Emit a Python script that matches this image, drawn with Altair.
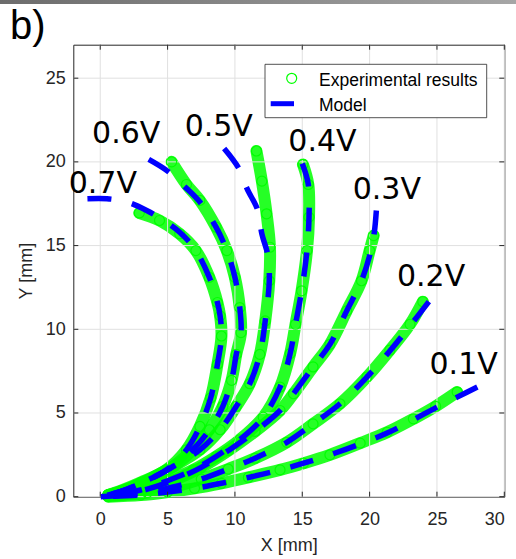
import altair as alt
import pandas as pd

# ---------------- data ----------------
voltages = ["0.1V", "0.2V", "0.3V", "0.4V", "0.5V", "0.6V", "0.7V"]

# experimental traces (mm)
exp_x_01 = [0.6, 3.0, 5.0, 7.0, 9.0, 11.0, 13.35, 15.1, 17.05, 19.3, 21.3, 23.25, 24.9, 26.5]
exp_y_01 = [0.0, 0.1, 0.28, 0.5, 0.8, 1.15, 1.6, 2.0, 2.5, 3.2, 3.85, 4.65, 5.4, 6.25]
exp_x_02 = [0.6, 3.5, 5.5, 7.5, 9.5, 11.5, 13.85, 15.8, 17.8, 19.8, 21.5, 23.0, 23.95]
exp_y_02 = [0.05, 0.25, 0.6, 1.05, 1.65, 2.3, 3.25, 4.35, 5.55, 7.15, 8.75, 10.3, 11.65]
exp_x_03 = [0.6, 1.5, 3.5, 5.5, 7.5, 9.5, 11.5, 13.35, 14.35, 15.8, 17.05, 18.3, 19.4, 20.0, 20.3]
exp_y_03 = [0.05, 0.1, 0.45, 1.0, 1.75, 2.75, 3.9, 5.15, 6.15, 7.75, 9.1, 11.1, 12.9, 14.7, 15.6]
exp_x_04 = [0.6, 1.5, 3.0, 5.0, 6.9, 8.6, 10.35, 12.1, 13.35, 14.1, 14.5, 14.95, 15.35, 15.5, 15.45, 15.05]
exp_y_04 = [0.1, 0.15, 0.4, 0.95, 1.6, 2.4, 3.4, 4.75, 6.55, 8.55, 10.3, 12.3, 14.7, 16.7, 18.65, 19.85]
exp_x_05 = [0.6, 1.5, 3.3, 5.4, 7.4, 8.9, 10.1, 11.1, 11.85, 12.25, 12.55, 12.6, 12.35, 12.0, 11.6]
exp_y_05 = [0.1, 0.3, 0.9, 1.8, 2.8, 4.0, 5.4, 6.75, 8.5, 10.5, 12.9, 14.9, 16.9, 18.85, 20.65]
exp_x_06 = [0.6, 1.5, 3.3, 5.4, 7.1, 8.1, 9.1, 9.75, 10.1, 10.45, 10.36, 10.0, 9.4, 8.6, 7.4, 6.4, 5.3]
exp_y_06 = [0.1, 0.3, 0.9, 1.8, 3.0, 4.0, 5.4, 6.95, 8.5, 9.8, 11.3, 13.1, 14.7, 16.1, 17.7, 18.65, 20.0]
exp_x_07 = [0.6, 1.5, 3.0, 4.9, 6.4, 7.4, 8.2, 8.7, 9.0, 8.9, 8.7, 8.1, 7.1, 5.9, 4.4, 2.9]
exp_y_07 = [0.1, 0.35, 0.85, 1.6, 2.8, 4.2, 5.9, 7.9, 9.6, 10.8, 11.6, 13.1, 14.7, 15.7, 16.5, 16.95]

# model curves (mm)
mod_x_01 = [0.0, 3.0, 5.0, 7.0, 9.0, 11.0, 13.35, 15.1, 17.05, 19.3, 21.3, 23.25, 25.0, 26.5, 28.0]
mod_y_01 = [0.0, 0.1, 0.28, 0.5, 0.8, 1.15, 1.6, 2.0, 2.5, 3.15, 3.8, 4.6, 5.35, 5.95, 6.55]
mod_x_02 = [0.0, 3.5, 5.5, 7.5, 9.5, 11.5, 13.85, 15.8, 17.8, 19.8, 21.5, 23.0, 24.4]
mod_y_02 = [0.0, 0.25, 0.6, 1.05, 1.65, 2.3, 3.25, 4.35, 5.55, 7.15, 8.7, 10.2, 11.65]
mod_x_03 = [0.0, 1.5, 3.5, 5.5, 7.5, 9.5, 11.5, 13.35, 14.35, 15.8, 17.05, 18.3, 19.4, 20.1, 20.35, 20.5]
mod_y_03 = [0.0, 0.1, 0.45, 1.0, 1.75, 2.75, 3.9, 5.15, 6.15, 7.75, 9.1, 11.1, 12.9, 14.7, 15.8, 17.1]
mod_x_04 = [0.0, 1.5, 3.0, 5.0, 6.9, 8.6, 10.35, 12.1, 13.35, 14.1, 14.5, 14.95, 15.35, 15.5, 15.45, 15.0]
mod_y_04 = [0.0, 0.15, 0.4, 0.95, 1.6, 2.4, 3.4, 4.75, 6.55, 8.55, 10.3, 12.3, 14.7, 16.7, 18.65, 19.9]
mod_x_05 = [0.0, 1.5, 3.3, 5.4, 7.4, 8.9, 10.1, 11.1, 11.85, 12.25, 12.55, 12.45, 12.0, 11.7, 10.9, 10.3, 9.2]
mod_y_05 = [0.0, 0.3, 0.9, 1.8, 2.8, 4.0, 5.4, 6.75, 8.5, 10.5, 12.9, 14.4, 15.7, 17.1, 18.4, 19.6, 20.8]
mod_x_06 = [0.0, 1.5, 3.3, 5.4, 7.1, 8.1, 9.1, 9.75, 10.1, 10.45, 10.36, 10.0, 9.4, 8.6, 7.4, 6.3, 5.0, 3.6]
mod_y_06 = [0.0, 0.3, 0.9, 1.8, 3.0, 4.0, 5.4, 6.95, 8.5, 9.8, 11.3, 13.1, 14.7, 16.1, 17.6, 18.5, 19.45, 20.15]
mod_x_07 = [0.0, 1.5, 3.0, 4.9, 6.4, 7.4, 8.2, 8.7, 9.0, 8.9, 8.7, 8.1, 7.1, 5.9, 4.4, 3.45, 2.0, 0.5, -0.95]
mod_y_07 = [0.0, 0.3, 0.8, 1.6, 2.8, 4.2, 5.9, 7.9, 9.6, 10.8, 11.6, 13.1, 14.7, 15.8, 16.65, 17.1, 17.6, 17.8, 17.8]

# voltage annotations
label_text = ["0.1V", "0.2V", "0.3V", "0.4V", "0.5V", "0.6V", "0.7V"]
label_x = [26.98, 24.56, 21.28, 16.5, 8.8, 1.93, 0.19]
label_y = [7.35, 12.6, 17.76, 20.64, 21.53, 21.13, 18.15]

x_ticks = [0, 5, 10, 15, 20, 25, 30]
y_ticks = [0, 5, 10, 15, 20, 25]
x_domain = [-2, 30]
y_domain = [0, 27]
legend_labels = ["Experimental results", "Model"]
panel_tag = "b)"

# ---------------- tables ----------------
exp_sets = [(exp_x_01, exp_y_01), (exp_x_02, exp_y_02), (exp_x_03, exp_y_03), (exp_x_04, exp_y_04),
            (exp_x_05, exp_y_05), (exp_x_06, exp_y_06), (exp_x_07, exp_y_07)]
mod_sets = [(mod_x_01, mod_y_01), (mod_x_02, mod_y_02), (mod_x_03, mod_y_03), (mod_x_04, mod_y_04),
            (mod_x_05, mod_y_05), (mod_x_06, mod_y_06), (mod_x_07, mod_y_07)]


def build(sets):
    rows = []
    for v, (xs_, ys_) in zip(voltages, sets):
        for i, (a, b) in enumerate(zip(xs_, ys_)):
            rows.append({"series": v, "order": i, "x": a, "y": b})
    return pd.DataFrame(rows)


df_exp = build(exp_sets)
df_mod = build(mod_sets)
df_lab = pd.DataFrame({"text": label_text, "x": label_x, "y": label_y})
df_xt = pd.DataFrame({"t": x_ticks})
df_yt = pd.DataFrame({"t": y_ticks})
one = pd.DataFrame({"k": [0]})

W, H = 431, 452
FONT = "Liberation Sans"
AX = "#262626"
GRID = "#e0e0e0"

xs = alt.Scale(domain=x_domain, nice=False, zero=False)
ys = alt.Scale(domain=y_domain, nice=False, zero=False)

main_x_axis = alt.Axis(values=x_ticks, grid=False, ticks=False, domain=False,
                       labelFont=FONT, labelFontSize=18, labelColor=AX, labelPadding=14,
                       title="X [mm]", titleFont=FONT, titleFontSize=18, titleFontWeight="normal",
                       titleColor=AX, titlePadding=8)
main_y_axis = alt.Axis(values=y_ticks, grid=False, ticks=False, domain=False,
                       labelFont=FONT, labelFontSize=18, labelColor=AX, labelPadding=8,
                       title="Y [mm]", titleFont=FONT, titleFontSize=18, titleFontWeight="normal",
                       titleColor=AX, titlePadding=10)

# grid lines
grid_x = alt.Chart(df_xt).mark_rule(color=GRID, strokeWidth=1).encode(
    x=alt.X("t:Q", scale=xs, axis=None))
grid_y = alt.Chart(df_yt).mark_rule(color=GRID, strokeWidth=1).encode(
    y=alt.Y("t:Q", scale=ys, axis=None))

# experimental band (dense circles -> thick green stroke)
exp_band = alt.Chart(df_exp).mark_line(
    color="#00ff00", strokeWidth=12, strokeCap="round", strokeJoin="round",
    interpolate="catmull-rom", opacity=0.85
).encode(
    x=alt.X("x:Q", scale=xs, axis=main_x_axis),
    y=alt.Y("y:Q", scale=ys, axis=main_y_axis),
    detail="series:N",
    order="order:Q",
)

exp_pts = alt.Chart(df_exp).mark_point(
    shape="circle", filled=False, color="#00ff00", size=100, strokeWidth=1.2, opacity=1
).encode(
    x=alt.X("x:Q", scale=xs, axis=None),
    y=alt.Y("y:Q", scale=ys, axis=None),
)

# model dashed curves (drawn from the free end so each tip carries a dash)
model = alt.Chart(df_mod).mark_line(
    color="#0000ff", strokeWidth=5.5, strokeDash=[24, 21], strokeCap="butt",
    interpolate="catmull-rom"
).encode(
    x=alt.X("x:Q", scale=xs, axis=None),
    y=alt.Y("y:Q", scale=ys, axis=None),
    detail="series:N",
    order=alt.Order("order:Q", sort="descending"),
)

labels = alt.Chart(df_lab).mark_text(
    font="DejaVu Sans", fontSize=30, color="#000000", align="center", baseline="alphabetic"
).encode(
    x=alt.X("x:Q", scale=xs, axis=None),
    y=alt.Y("y:Q", scale=ys, axis=None),
    text="text:N",
)

# inward ticks on all four sides
tick_b = alt.Chart(df_xt).mark_rule(color=AX, strokeWidth=1).encode(
    x=alt.X("t:Q", scale=xs, axis=None), y=alt.value(H), y2=alt.value(H - 5))
tick_t = alt.Chart(df_xt).mark_rule(color=AX, strokeWidth=1).encode(
    x=alt.X("t:Q", scale=xs, axis=None), y=alt.value(0), y2=alt.value(5))
tick_l = alt.Chart(df_yt).mark_rule(color=AX, strokeWidth=1).encode(
    y=alt.Y("t:Q", scale=ys, axis=None), x=alt.value(0), x2=alt.value(5))
tick_r = alt.Chart(df_yt).mark_rule(color=AX, strokeWidth=1).encode(
    y=alt.Y("t:Q", scale=ys, axis=None), x=alt.value(W), x2=alt.value(W - 5))

# legend
leg_box = alt.Chart(one).mark_rect(fill="white", stroke=AX, strokeWidth=0.8).encode(
    x=alt.value(191.7), x2=alt.value(413.4), y=alt.value(19.6), y2=alt.value(73)
)
leg_pt = alt.Chart(one).mark_point(shape="circle", filled=False, color="#00ff00", size=100,
                                   strokeWidth=1.2, opacity=1).encode(
    x=alt.value(218.4), y=alt.value(33.6)
)
leg_line = alt.Chart(one).mark_rule(color="#0000ff", strokeWidth=5).encode(
    x=alt.value(197.4), x2=alt.value(220.7), y=alt.value(59)
)
leg_t1 = alt.Chart(one).mark_text(font=FONT, fontSize=17.5, color="#000000", align="left",
                                  baseline="alphabetic").encode(
    x=alt.value(245.7), y=alt.value(41), text=alt.value(legend_labels[0])
)
leg_t2 = alt.Chart(one).mark_text(font=FONT, fontSize=17.5, color="#000000", align="left",
                                  baseline="alphabetic").encode(
    x=alt.value(245.7), y=alt.value(66.3), text=alt.value(legend_labels[1])
)

# decorations: top grey strip and panel tag
strip = alt.Chart(one).mark_rect(
    color=alt.LinearGradient(gradient="linear",
                             stops=[alt.GradientStop(color="#6c6c6c", offset=0),
                                    alt.GradientStop(color="#a6a6a6", offset=1)],
                             x1=0, x2=1, y1=0, y2=0)
).encode(x=alt.value(-73.3), x2=alt.value(442.7), y=alt.value(-44.7), y2=alt.value(-40.7))

tag = alt.Chart(one).mark_text(font=FONT, fontSize=40, color="#000000", align="left",
                               baseline="alphabetic").encode(
    x=alt.value(-63.3), y=alt.value(-5.4), text=alt.value(panel_tag)
)

chart = alt.layer(
    exp_band, grid_x, grid_y, exp_pts, model, labels, tick_b, tick_t, tick_l, tick_r,
    leg_box, leg_pt, leg_line, leg_t1, leg_t2, strip, tag
).resolve_axis(x="independent", y="independent").properties(
    width=W, height=H,
    padding={"left": 73.3, "top": 44.7, "right": 11.7, "bottom": 62.3},
    autosize=alt.AutoSizeParams(type="none"),
    background="white",
).configure_view(stroke=AX, strokeWidth=1)

chart.save("out.html", embed_options={"renderer": "svg", "actions": False})
